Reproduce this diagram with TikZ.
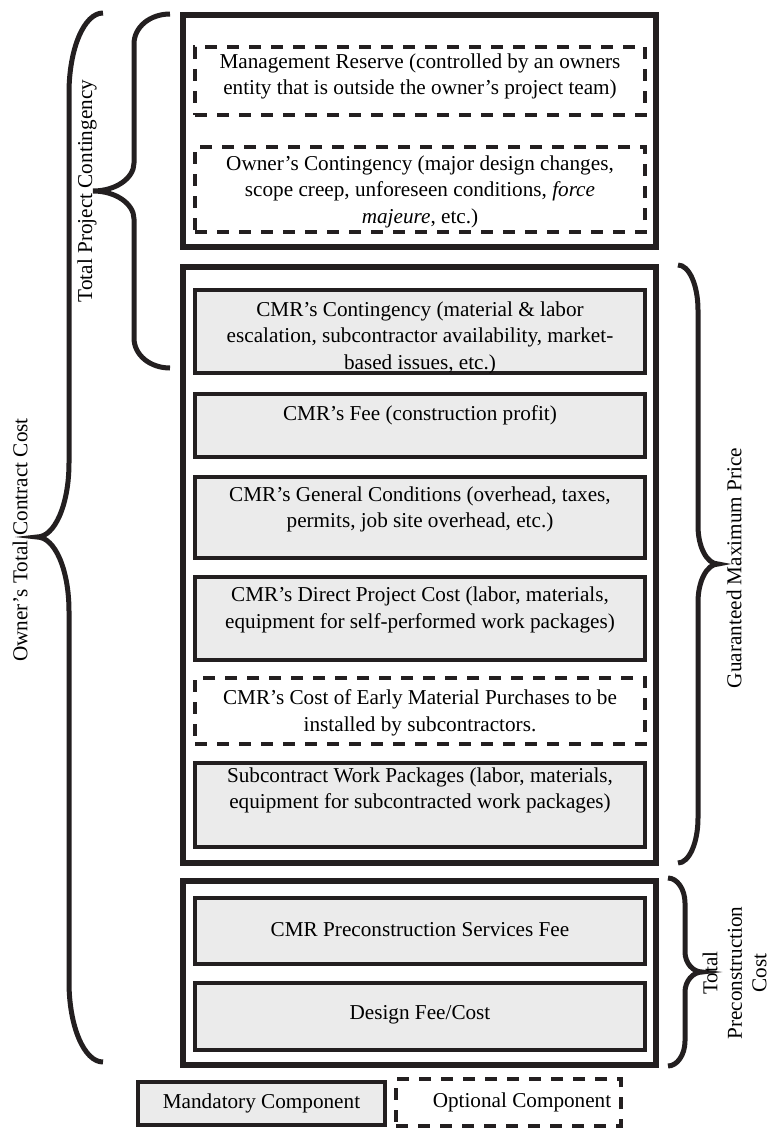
\documentclass[tikz,border=0pt]{standalone}
\usepackage{fontspec}
\setmainfont{Liberation Serif}
\definecolor{ink}{HTML}{231F20}
\definecolor{panel}{HTML}{EBEBEB}
\begin{document}
\begin{tikzpicture}[x=1pt,y=-1pt,
  every node/.style={inner sep=0pt, outer sep=0pt},
  group/.style={draw=ink, line width=6pt, rectangle, minimum width=473pt},
  mandbox/.style={draw=ink, fill=panel, line width=4pt, rectangle},
  optbox/.style={draw=ink, line width=4pt, rectangle, dash pattern=on 12pt off 10pt},
  item/.style={minimum width=450pt},
  txt/.style={font=\fontsize{21.2}{26.5}\selectfont, align=center, text=black},
  sidetxt/.style={txt, rotate=90},
  bracepath/.style={draw=ink, line width=5pt},
]
\useasboundingbox (0,0) rectangle (769,1129);

% three groups of cost components
\node[group, minimum height=232pt] (own) at (419.5,131) {};
\node[group, minimum height=596pt] (gmp) at (419.5,565) {};
\node[group, minimum height=184pt] (pre) at (419.5,973) {};

% owner's contingencies
\node[optbox, item, minimum height=68pt] (mr) at (420,81) {};
\node[optbox, item, minimum height=85pt] (oc) at (420,189.5) {};

% guaranteed maximum price components
\node[mandbox, item, minimum height=83pt] (cc) at (420,331.5) {};
\node[mandbox, item, minimum height=63.5pt] (fee) at (420,425.5) {};
\node[mandbox, item, minimum height=81pt] (gc) at (420,517.5) {};
\node[mandbox, item, minimum height=83pt] (dpc) at (420,618.5) {};
\node[optbox, item, minimum height=66pt] (emp) at (420,711) {};
\node[mandbox, item, minimum height=84pt] (sub) at (420,805) {};

% preconstruction components
\node[mandbox, item, minimum height=66pt] (psf) at (420,931) {};
\node[mandbox, item, minimum height=67pt] (des) at (420,1016.5) {};

% legend
\node[mandbox, minimum width=247pt, minimum height=43pt] (mand) at (261.5,1103.5) {};
\node[optbox, minimum width=225pt, minimum height=47pt] (opt) at (508.5,1102.5) {};

% box texts
\node[txt] (mr-t) at (420,76.5) {Management Reserve (controlled by an owners\\entity that is outside the owner’s project team)};
\node[txt] (oc-t) at (420,191.5) {Owner’s Contingency (major design changes,\\scope creep, unforeseen conditions, \textit{force}\\\textit{majeure}, etc.)};
\node[txt] (cc-t) at (420,337.5) {CMR’s Contingency (material \& labor\\escalation, subcontractor availability, market-\\based issues, etc.)};
\node[txt] (fee-t) at (420,415) {CMR’s Fee (construction profit)};
\node[txt] (gc-t) at (420,509.5) {CMR’s General Conditions (overhead, taxes,\\permits, job site overhead, etc.)};
\node[txt] (dpc-t) at (420,610) {CMR’s Direct Project Cost (labor, materials,\\equipment for self-performed work packages)};
\node[txt] (emp-t) at (420,713) {CMR’s Cost of Early Material Purchases to be\\installed by subcontractors.};
\node[txt] (sub-t) at (420,790.5) {Subcontract Work Packages (labor, materials,\\equipment for subcontracted work packages)};
\node[txt] (psf-t) at (420,930) {CMR Preconstruction Services Fee};
\node[txt] (des-t) at (420,1015) {Design Fee/Cost};
\node[txt] (mand-t) at (261.5,1103) {Mandatory Component};
\node[txt] (opt-t) at (522,1102) {Optional Component};

% braces
\draw[bracepath] (170,14) .. controls (150,14) and (134,27) .. (134,44)
  -- (134,163) .. controls (134,178) and (116,191) .. (93,191)
  .. controls (116,191) and (134,204) .. (134,219)
  -- (134,338) .. controls (134,355) and (150,368) .. (170,368);
\draw[bracepath] (103,13) .. controls (84,13) and (69,49) .. (69,93)
  -- (69,463) .. controls (69,504) and (55,537) .. (37,537)
  .. controls (55,537) and (69,570) .. (69,611)
  -- (69,982) .. controls (69,1026) and (84,1062) .. (103,1062);
\draw[bracepath] (678,265) .. controls (689,265) and (698,285) .. (698,310)
  -- (698,526) .. controls (698,547) and (707,564) .. (718,564)
  .. controls (707,564) and (698,581) .. (698,602)
  -- (698,818) .. controls (698,843) and (689,863) .. (678,863);
\draw[bracepath] (668,878) .. controls (677,878) and (685,889) .. (685,903)
  -- (685,952) .. controls (685,963) and (693,972) .. (702,972)
  .. controls (693,972) and (685,981) .. (685,992)
  -- (685,1041) .. controls (685,1055) and (677,1066) .. (668,1066);

% brace labels
\node[sidetxt] (tpc-l) at (87,191) {Total Project Contingency};
\node[sidetxt] (otc-l) at (20,540) {Owner’s Total Contract Cost};
\node[sidetxt] (gmp-l) at (734,568) {Guaranteed Maximum Price};
\node[sidetxt, font=\fontsize{21.2}{24.5}\selectfont] (tpre-l) at (734.5,973) {Total\\Preconstruction\\Cost};
\end{tikzpicture}
\end{document}
